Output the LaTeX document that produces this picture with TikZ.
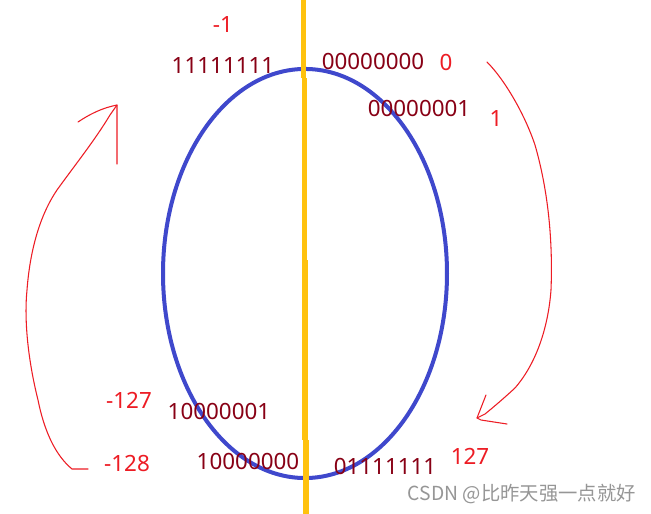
\documentclass[tikz,border=0pt]{standalone}
\usepackage{fontspec}
\setmainfont{Noto Sans}
\newfontfamily\cjkfont{Noto Sans CJK SC}
\definecolor{ringblue}{RGB}{63,72,204}
\definecolor{axisgold}{RGB}{255,194,14}
\definecolor{bitred}{RGB}{136,0,21}
\definecolor{numred}{RGB}{237,28,36}
\definecolor{markgray}{RGB}{150,150,150}
\begin{document}
\begin{tikzpicture}[x=0.75pt,y=-0.75pt,
  bits/.style={text=bitred,font=\fontsize{16.8}{18}\selectfont,inner sep=0pt},
  num/.style={text=numred,font=\fontsize{16.8}{18}\selectfont,inner sep=0pt},
  hand/.style={draw=numred,line width=0.8pt,line join=round,line cap=round}]
\useasboundingbox[fill=white] (0,0) rectangle (651,514);
% ring
\draw[ringblue,line width=3pt] (305,273.5) ellipse [x radius=106.5pt,y radius=153.4pt];
% axis
\draw[axisgold,line width=3.8pt] (303.5,0) -- (303.5,78);
\draw[axisgold,line width=3.8pt] (304.3,78) -- (304.3,260);
\draw[axisgold,line width=3.8pt] (305,260) -- (305,440);
\draw[axisgold,line width=3.8pt] (306,440) -- (306,514);
% labels
\node[num]  (m1)   at (223,25)  {-1};
\node[bits] (b255) at (223,66)  {11111111};
\node[bits] (b0)   at (373,61)  {00000000};
\node[num]  (n0)   at (446,62)  {0};
\node[bits] (b1)   at (419,108) {00000001};
\node[num]  (n1)   at (496,119) {1};
\node[num]  (m127) at (129,400) {-127};
\node[bits] (b129) at (219,411) {10000001};
\node[num]  (m128) at (127,464) {-128};
\node[bits] (b128) at (248,461) {10000000};
\node[bits] (b127) at (385,466) {01111111};
\node[num]  (n127) at (470,456) {127};
\node[text=markgray,font=\cjkfont\fontsize{14.5}{16}\selectfont,inner sep=0pt,anchor=east] (wm) at (636,494) {CSDN @比昨天强一点就好};
% left hand-drawn arrow
\coordinate (ltip) at (117,105);
\draw[hand] (88,469) -- (72,469) .. controls (55,455) and (44,430) .. (38,400)
  .. controls (28,360) and (24,320) .. (27,290)
  .. controls (30,250) and (40,215) .. (57,190)
  .. controls (75,165) and (95,140) .. (110,115) -- (ltip);
\draw[hand] (78,122) .. controls (90,114) and (102,108) .. (ltip) -- (117,164);
% right hand-drawn arrow
\coordinate (rtip) at (477,418);
\draw[hand] (487,62) .. controls (505,80) and (525,115) .. (535,145)
  .. controls (548,190) and (553,240) .. (551,290)
  .. controls (548,330) and (535,365) .. (515,388)
  .. controls (502,400) and (490,410) .. (485,414) -- (rtip);
\draw[hand] (486,395) -- (rtip) -- (481,420) -- (507,424);
\end{tikzpicture}
\end{document}
